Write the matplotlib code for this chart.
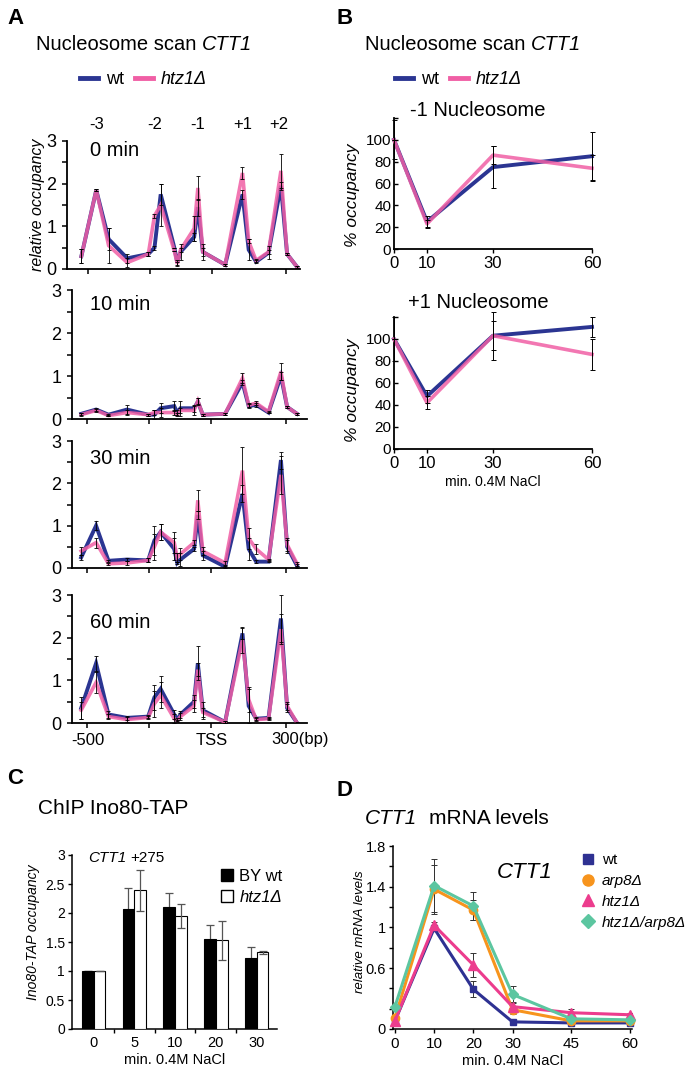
import numpy as np
import matplotlib
matplotlib.use("Agg")
import matplotlib.pyplot as plt
from matplotlib.lines import Line2D
from matplotlib.patches import Patch
import matplotlib.transforms as mtransforms

plt.rcParams['font.family'] = ['Liberation Sans', 'DejaVu Sans']

# ---------------- data ----------------
# A: nucleosome scan, probe positions (bp relative to TSS)
pos_bp = [-525, -465, -415, -340, -255, -230, -205, -150, -138, -125, -70,
          -55, -35, 55, 125, 150, 180, 230, 280, 305, 345]

wt_0 = [0.30, 1.85, 0.70, 0.25, 0.35, 0.50, 1.75, 0.50, 0.15, 0.40, 0.75,
        1.45, 0.40, 0.10, 1.75, 0.45, 0.17, 0.38, 1.95, 0.35, 0.05]
htz_0 = [0.30, 1.85, 0.55, 0.15, 0.35, 1.25, 1.50, 0.42, 0.12, 0.45, 0.95,
         1.90, 0.40, 0.10, 2.25, 0.65, 0.20, 0.40, 2.30, 0.35, 0.05]
err_wt_0 = [0.17, 0.02, 0.25, 0.10, 0.05, 0.05, 0.25, 0.00, 0.05, 0.18, 0.10,
            0.20, 0.18, 0.02, 0.10, 0.25, 0.03, 0.15, 0.10, 0.03, 0.02]
err_htz_0 = [0.17, 0.02, 0.40, 0.10, 0.05, 0.05, 0.50, 0.00, 0.05, 0.05, 0.30,
             0.28, 0.10, 0.02, 0.15, 0.05, 0.03, 0.05, 0.40, 0.03, 0.02]

wt_10 = [0.12, 0.22, 0.10, 0.22, 0.10, 0.10, 0.25, 0.30, 0.15, 0.25, 0.25,
         0.40, 0.10, 0.12, 0.85, 0.30, 0.33, 0.15, 1.00, 0.28, 0.12]
htz_10 = [0.10, 0.20, 0.08, 0.15, 0.10, 0.15, 0.15, 0.15, 0.10, 0.20, 0.20,
          0.42, 0.10, 0.12, 0.95, 0.32, 0.37, 0.17, 1.10, 0.28, 0.12]
err_wt_10 = [0.03, 0.03, 0.02, 0.10, 0.02, 0.10, 0.12, 0.12, 0.05, 0.18, 0.08,
             0.08, 0.02, 0.02, 0.05, 0.05, 0.05, 0.02, 0.10, 0.03, 0.02]
err_htz_10 = [0.03, 0.03, 0.02, 0.05, 0.02, 0.05, 0.10, 0.05, 0.03, 0.05, 0.10,
              0.08, 0.02, 0.02, 0.12, 0.05, 0.05, 0.02, 0.20, 0.03, 0.02]

wt_30 = [0.25, 1.00, 0.17, 0.20, 0.18, 0.65, 0.85, 0.45, 0.12, 0.20, 0.45,
         1.25, 0.30, 0.03, 1.75, 0.45, 0.15, 0.15, 2.55, 0.50, 0.05]
htz_30 = [0.40, 0.60, 0.10, 0.12, 0.18, 0.50, 0.85, 0.60, 0.25, 0.33, 0.60,
          1.60, 0.40, 0.12, 2.30, 0.70, 0.45, 0.20, 2.20, 0.55, 0.10]
err_wt_30 = [0.05, 0.10, 0.02, 0.03, 0.05, 0.35, 0.20, 0.25, 0.02, 0.15, 0.05,
             0.10, 0.10, 0.02, 0.20, 0.25, 0.03, 0.02, 0.20, 0.15, 0.05]
err_htz_30 = [0.10, 0.12, 0.02, 0.05, 0.05, 0.30, 0.20, 0.25, 0.10, 0.15, 0.05,
              0.25, 0.10, 0.05, 0.55, 0.25, 0.12, 0.02, 0.45, 0.15, 0.05]

wt_60 = [0.35, 1.40, 0.20, 0.12, 0.15, 0.60, 0.80, 0.20, 0.08, 0.20, 0.50,
         1.40, 0.30, 0.02, 2.10, 0.40, 0.10, 0.12, 2.45, 0.35, 0.00]
htz_60 = [0.30, 0.95, 0.15, 0.08, 0.13, 0.45, 0.65, 0.10, 0.05, 0.15, 0.40,
          1.25, 0.25, 0.02, 1.95, 0.55, 0.08, 0.10, 2.20, 0.40, 0.00]
err_wt_60 = [0.25, 0.18, 0.08, 0.05, 0.03, 0.30, 0.30, 0.10, 0.03, 0.08, 0.15,
             0.40, 0.20, 0.02, 0.12, 0.40, 0.03, 0.02, 0.55, 0.10, 0.02]
err_htz_60 = [0.20, 0.25, 0.05, 0.05, 0.03, 0.30, 0.30, 0.10, 0.03, 0.08, 0.15,
              0.15, 0.10, 0.02, 0.30, 0.30, 0.03, 0.02, 0.35, 0.10, 0.02]

scan_titles = ['0 min', '10 min', '30 min', '60 min']
nuc_labels = ['-3', '-2', '-1', '+1', '+2']
nuc_pos = [-465, -230, -55, 125, 270]

# B: -1 / +1 nucleosome occupancy
time_B = [0, 10, 30, 60]
wt_m1 = [100, 25, 75, 85]
htz_m1 = [100, 23, 86, 74]
err_wt_m1 = [18, 5, 19, 22]
err_htz_m1 = [0, 4, 8, 12]
wt_p1 = [100, 48, 103, 111]
htz_p1 = [100, 42, 103, 86]
err_wt_p1 = [20, 6, 22, 9]
err_htz_p1 = [0, 6, 13, 14]

# C: ChIP Ino80-TAP
time_C = ['0', '5', '10', '20', '30']
chip_wt = [1.0, 2.07, 2.10, 1.56, 1.22]
chip_htz = [1.0, 2.39, 1.95, 1.53, 1.32]
err_chip_wt = [0, 0.36, 0.25, 0.23, 0.19]
err_chip_htz = [0, 0.36, 0.21, 0.34, 0.02]

# D: CTT1 mRNA levels
time_D = [0, 10, 20, 30, 45, 60]
mrna_wt = [0.08, 0.99, 0.39, 0.07, 0.06, 0.06]
mrna_arp8 = [0.11, 1.375, 1.17, 0.19, 0.08, 0.08]
mrna_htz1 = [0.08, 1.02, 0.63, 0.22, 0.16, 0.14]
mrna_double = [0.22, 1.41, 1.21, 0.34, 0.10, 0.09]
err_mrna_wt = [0.02, 0.02, 0.08, 0.01, 0.01, 0.01]
err_mrna_arp8 = [0.02, 0.24, 0.10, 0.04, 0.02, 0.02]
err_mrna_htz1 = [0.02, 0.03, 0.12, 0.05, 0.04, 0.02]
err_mrna_double = [0.02, 0.26, 0.14, 0.08, 0.02, 0.02]

BLUE = '#2B3592'
PINK = '#F05FA5'

W, H = 692, 1074
fig = plt.figure(figsize=(W / 100, H / 100), dpi=100)
renderer = fig.canvas.get_renderer()


def add_ax(l, t, r, b):
    return fig.add_axes([l / W, 1 - b / H, (r - l) / W, (b - t) / H])


def ftext(x, y, s, **kw):
    return fig.text(x / W, 1 - y / H, s, **kw)


def rich(x, y, parts, size):
    # parts: list of (text, style, gap-in-spaces-after)
    cur = x
    for s, style, gap in parts:
        t = ftext(cur, y, s, size=size, style=style, va='center')
        cur += t.get_window_extent(renderer=renderer).width + gap * 0.278 * size * 100 / 72


def clean(ax, lw=1.3):
    for s in ['top', 'right']:
        ax.spines[s].set_visible(False)
    for s in ['left', 'bottom']:
        ax.spines[s].set_linewidth(lw)
    ax.set_facecolor('none')


def italic_legend(leg, idx):
    for k in idx:
        leg.get_texts()[k].set_fontstyle('italic')


# ---------------- panel A ----------------
ftext(7, 18, 'A', weight='bold', size=16, va='center')
rich(36, 45, [('Nucleosome scan', 'normal', 1), ('CTT1', 'italic', 0)], 14.5)
leg = fig.legend([Line2D([], [], color=BLUE, lw=3.5), Line2D([], [], color=PINK, lw=3.5)],
                 ['wt', 'htz1Δ'], loc='center left', bbox_to_anchor=(80 / W, 1 - 80 / H),
                 ncol=2, frameon=False, fontsize=13, handlelength=1.0, handletextpad=0.45,
                 columnspacing=0.6, borderpad=0, borderaxespad=0)
italic_legend(leg, [1])

scan_wt = [wt_0, wt_10, wt_30, wt_60]
scan_htz = [htz_0, htz_10, htz_30, htz_60]
scan_ewt = [err_wt_0, err_wt_10, err_wt_30, err_wt_60]
scan_ehtz = [err_htz_0, err_htz_10, err_htz_30, err_htz_60]
boxes = [(67, 141, 300, 269), (72, 290, 307, 419), (72, 441, 307, 568), (72, 595, 307, 723)]
label_y = [151, 305, 459, 622]

for i in range(4):
    l, t, r, b = boxes[i]
    ax = add_ax(l, t, r, b)
    clean(ax)
    x0 = -562 if i > 0 else -583
    ax.set_xlim(x0, 385 if i > 0 else 357)
    ax.set_ylim(0, 3)
    ax.errorbar(pos_bp, scan_wt[i], yerr=scan_ewt[i], fmt='none', ecolor='black',
                elinewidth=0.6, capsize=1.5, capthick=0.6, zorder=4)
    ax.errorbar(pos_bp, scan_htz[i], yerr=scan_ehtz[i], fmt='none', ecolor='black',
                elinewidth=0.6, capsize=1.5, capthick=0.6, zorder=4)
    ax.plot(pos_bp, scan_wt[i], color=BLUE, lw=2.8, zorder=2, solid_joinstyle='miter')
    ax.plot(pos_bp, scan_htz[i], color=PINK, lw=2.6, alpha=0.85, zorder=3,
            solid_joinstyle='miter')
    ax.set_yticks([0, 1, 2, 3])
    ax.set_yticks([0.5, 1.5, 2.5], minor=True)
    ax.set_xticks([-500, -250, 0, 300])
    ax.tick_params(axis='both', which='both', direction='out', length=3.5, width=1.1)
    ax.tick_params(axis='y', labelsize=13, pad=4)
    if i < 3:
        ax.set_xticklabels([])
    else:
        ax.set_xticklabels(['-500', '', 'TSS', ''], fontsize=12)
        ax.annotate('300(bp)', xy=(300, 0), xycoords=('data', 'axes fraction'),
                    xytext=(-10.5, -6.5), textcoords='offset points',
                    ha='left', va='top', fontsize=12)
    ftext(90, label_y[i], scan_titles[i], size=14.5, va='center')
    if i == 0:
        trans = mtransforms.blended_transform_factory(ax.transData, ax.transAxes)
        for lab, p in zip(nuc_labels, nuc_pos):
            ax.text(p, 1.125, lab, transform=trans, ha='center', va='center', fontsize=12)

ftext(38, 205, 'relative occupancy', rotation=90, style='italic', size=11.5,
      ha='center', va='center')

# ---------------- panel B ----------------
ftext(337, 18, 'B', weight='bold', size=16, va='center')
rich(365, 45, [('Nucleosome scan', 'normal', 1), ('CTT1', 'italic', 0)], 14.5)
leg = fig.legend([Line2D([], [], color=BLUE, lw=3.5), Line2D([], [], color=PINK, lw=3.5)],
                 ['wt', 'htz1Δ'], loc='center left', bbox_to_anchor=(395 / W, 1 - 80 / H),
                 ncol=2, frameon=False, fontsize=13, handlelength=1.0, handletextpad=0.45,
                 columnspacing=0.6, borderpad=0, borderaxespad=0)
italic_legend(leg, [1])

b_sets = [(wt_m1, htz_m1, err_wt_m1, err_htz_m1, '-1 Nucleosome', (394, 118, 592, 249), 110, 195),
          (wt_p1, htz_p1, err_wt_p1, err_htz_p1, '+1 Nucleosome', (394, 317, 592, 449), 302, 390)]
for j, (wt, htz, ew, eh, title, box, ty, ly) in enumerate(b_sets):
    ax = add_ax(*box)
    clean(ax)
    ax.set_xlim(0, 60)
    ax.set_ylim(0, 120)
    ax.errorbar(time_B, wt, yerr=ew, fmt='none', ecolor='black', elinewidth=0.7,
                capsize=1.8, capthick=0.7, zorder=4, clip_on=False)
    ax.errorbar(time_B, htz, yerr=eh, fmt='none', ecolor='black', elinewidth=0.7,
                capsize=1.8, capthick=0.7, zorder=4, clip_on=False)
    ax.plot(time_B, wt, color=BLUE, lw=2.8, zorder=2, clip_on=False)
    ax.plot(time_B, htz, color=PINK, lw=2.6, alpha=0.85, zorder=3, clip_on=False)
    ax.set_yticks([0, 20, 40, 60, 80, 100, 120])
    ax.set_yticklabels(['0', '20', '40', '60', '80', '100', ''])
    ax.set_xticks(time_B)
    ax.tick_params(axis='y', direction='in', length=3, width=1, labelsize=11, pad=2)
    ax.tick_params(axis='x', direction='out', length=3, width=1, labelsize=12, pad=2)
    ftext(478, ty, title, size=14.5, ha='center', va='center')
    ftext(353, ly, '% occupancy', rotation=90, style='italic', size=12.5,
          ha='center', va='center')
    if j == 1:
        ax.set_xlabel('min. 0.4M NaCl', fontsize=10, labelpad=3)

# ---------------- panel C ----------------
ftext(7, 778, 'C', weight='bold', size=16, va='center')
ftext(38, 808, 'ChIP Ino80-TAP', size=15, va='center')
ax = add_ax(72, 855, 277, 1029)
clean(ax, lw=1.1)
xc = np.arange(len(time_C))
bw = 0.29
ax.bar(xc - bw / 2, chip_wt, bw, color='black', edgecolor='black', lw=0.8, zorder=3)
ax.bar(xc + bw / 2, chip_htz, bw, color='white', edgecolor='black', lw=0.8, zorder=3)
ax.errorbar(xc - bw / 2, chip_wt, yerr=err_chip_wt, fmt='none', ecolor='#555555',
            elinewidth=0.9, capsize=3, capthick=0.9, zorder=2)
ax.errorbar(xc + bw / 2, chip_htz, yerr=err_chip_htz, fmt='none', ecolor='#555555',
            elinewidth=0.9, capsize=3, capthick=0.9, zorder=4)
ax.set_xlim(-0.53, 4.5)
ax.set_ylim(0, 3)
ax.set_yticks(np.arange(0, 3.01, 0.5))
ax.set_yticklabels(['0', '0.5', '1', '1.5', '2', '2.5', '3'])
ax.set_xticks(xc)
ax.set_xticklabels(time_C)
ax.set_xticks(xc[:-1] + 0.5, minor=True)
ax.tick_params(axis='x', which='major', length=0, labelsize=10.5, pad=5)
ax.tick_params(axis='x', which='minor', direction='out', length=3, width=1)
ax.tick_params(axis='y', direction='out', length=3, width=1, labelsize=10, pad=2)
ax.set_xlabel('min. 0.4M NaCl', fontsize=10.5, labelpad=2)
rich(88, 858, [('CTT1', 'italic', 1), ('+275', 'normal', 0)], 11)
ftext(33, 932, 'Ino80-TAP occupancy', rotation=90, style='italic', size=10,
      ha='center', va='center')
leg = fig.legend([Patch(facecolor='black', edgecolor='black'),
                  Patch(facecolor='white', edgecolor='black')],
                 ['BY wt', 'htz1Δ'], loc='upper left', bbox_to_anchor=(221 / W, 1 - 869 / H),
                 frameon=False, fontsize=12, handlelength=0.7, handleheight=0.7,
                 handletextpad=0.4, labelspacing=0.35, borderpad=0, borderaxespad=0)
italic_legend(leg, [1])

# ---------------- panel D ----------------
ftext(337, 791, 'D', weight='bold', size=16, va='center')
rich(365, 818, [('CTT1', 'italic', 2), ('mRNA levels', 'normal', 0)], 15)
ax = add_ax(393, 846, 632, 1029)
clean(ax, lw=1.1)
d_series = [(mrna_wt, err_mrna_wt, '#2E3192', 's', 'wt', 5),
            (mrna_arp8, err_mrna_arp8, '#F7941D', 'o', 'arp8Δ', 6),
            (mrna_htz1, err_mrna_htz1, '#EC3C8D', '^', 'htz1Δ', 6.5),
            (mrna_double, err_mrna_double, '#5CC6A0', 'D', 'htz1Δ/arp8Δ', 5.5)]
handles = []
for vals, errs, col, mk, lab, ms in d_series:
    ax.errorbar(time_D, vals, yerr=errs, fmt='none', ecolor='#333333', elinewidth=0.7,
                capsize=2, capthick=0.7, zorder=2)
    ax.plot(time_D, vals, color=col, lw=2.2, marker=mk, ms=ms, mec=col, zorder=3,
            clip_on=False)
    handles.append(Line2D([], [], color=col, marker=mk, ls='none', ms=ms + 2))
ax.set_xlim(-0.5, 60.5)
ax.set_ylim(0, 1.8)
ax.set_xticks(time_D)
ax.set_yticks([0, 0.6, 1.0, 1.4, 1.8])
ax.set_yticklabels(['0', '0.6', '1', '1.4', '1.8'])
ax.set_yticks(np.arange(0.2, 1.8, 0.2), minor=True)
ax.tick_params(axis='both', which='both', direction='out', length=3, width=1)
ax.tick_params(axis='y', labelsize=10.5, pad=2)
ax.tick_params(axis='x', labelsize=11, pad=3)
ax.set_xlabel('min. 0.4M NaCl', fontsize=10.5, labelpad=2)
ftext(525, 873, 'CTT1', style='italic', size=16, ha='center', va='center')
ftext(360, 932, 'relative mRNA levels', rotation=90, style='italic', size=9.5,
      ha='center', va='center')
leg = fig.legend(handles, [d[4] for d in d_series], loc='upper left',
                 bbox_to_anchor=(582 / W, 1 - 853 / H), frameon=False, fontsize=11,
                 handlelength=0.8, handletextpad=0.5, labelspacing=0.45,
                 borderpad=0, borderaxespad=0)
italic_legend(leg, [1, 2, 3])

fig.savefig('out.png', dpi=100)
